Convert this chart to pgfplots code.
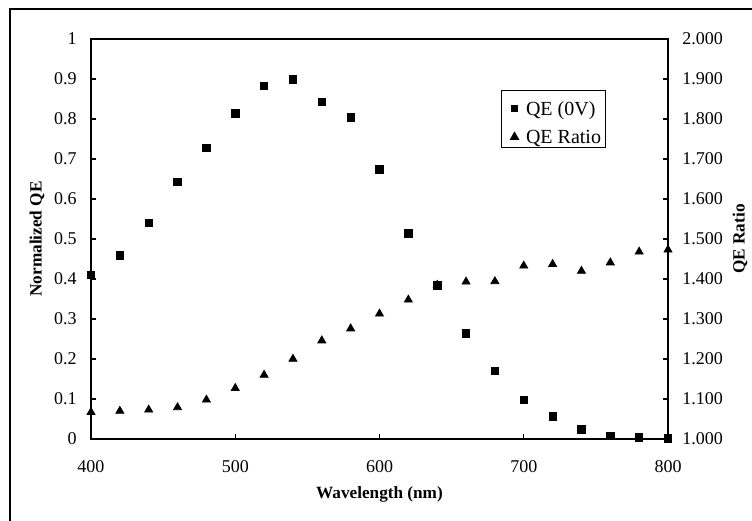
\documentclass[border=0pt]{standalone}
\usepackage{pgfplots}
\pgfplotsset{compat=1.18}
\usepackage{fontspec}
\setmainfont{Liberation Serif}
\newcommand\tf{\fontsize{9bp}{10bp}\selectfont}
\newcommand\lf{\fontsize{8.6bp}{10bp}\selectfont}
\newcommand\gf{\fontsize{10bp}{12bp}\selectfont}

\pgfplotstableread{
x qe ratio
400 0.410 1.067
420 0.459 1.070
440 0.540 1.073
460 0.642 1.079
480 0.727 1.098
500 0.814 1.127
520 0.882 1.160
540 0.899 1.200
560 0.842 1.246
580 0.804 1.276
600 0.674 1.313
620 0.514 1.348
640 0.384 1.385
660 0.264 1.393
680 0.170 1.394
700 0.098 1.433
720 0.057 1.437
740 0.024 1.420
760 0.008 1.441
780 0.004 1.468
800 0.002 1.473
}\data

\begin{document}
\begin{tikzpicture}
\useasboundingbox (0,0) rectangle (376bp,260.5bp);
\draw[line width=0.6bp] (5bp,-5bp) -- (5bp,256bp) -- (380bp,256bp);
\pgfplotsset{
  common/.style={
    at={(45.5bp,41bp)}, anchor=south west,
    scale only axis, width=288.5bp, height=200bp,
    xmin=400, xmax=800, clip=false,
    tick align=inside, major tick length=2.5bp,
    axis line style={line width=0.6bp}, tick style={line width=0.6bp,black},
    /pgf/number format/assume math mode=true,
    tick label style={font=\tf},
    label style={font=\lf\bfseries},
  }
}
\begin{axis}[common,
  ymin=0, ymax=1,
  xtick={400,500,600,700,800}, xtick pos=bottom,
  ytick={0,0.1,0.2,0.3,0.4,0.5,0.6,0.7,0.8,0.9,1},
  yticklabels={0,0.1,0.2,0.3,0.4,0.5,0.6,0.7,0.8,0.9,1},
  ytick pos=left,
  xticklabel style={anchor=center, inner sep=0pt, yshift=-14bp},
  yticklabel style={anchor=east, inner sep=0pt, xshift=-7bp},
  xlabel={Wavelength (nm)},
  xlabel style={at={(rel axis cs:0.5,0)}, anchor=center, yshift=-27.5bp},
  ylabel={Normalized QE},
  ylabel style={at={(rel axis cs:0,0.5)}, anchor=center, yshift=27bp},
]
\addplot[only marks, mark=square*, mark size=1.85bp, black] table[x=x,y=qe]{\data};
\end{axis}
\begin{axis}[common,
  ymin=1, ymax=2,
  axis x line=none, axis y line*=right,
  ytick={1,1.1,...,2.01},
  yticklabel style={anchor=west, inner sep=0pt, xshift=7bp,
    /pgf/number format/.cd, fixed, fixed zerofill, precision=3},
  ylabel={QE Ratio},
  ylabel style={at={(rel axis cs:1,0.5)}, anchor=center, yshift=-36bp},
  legend style={at={(rel axis cs:0.7106,0.8725)}, anchor=north west,
    draw=black, line width=0.5bp, font=\gf,
    inner xsep=1.25bp, inner ysep=0.25bp, row sep=0pt,
    nodes={text height=10.6bp, text depth=0bp, inner ysep=1.7bp, inner xsep=1bp},
    /tikz/every even column/.style={column sep=0pt},
  },
  legend cell align=left,
  legend image code/.code={\path (-5bp,-2bp) (4.5bp,-2bp);\draw[#1] plot coordinates {(0bp,-2bp)};},
]
\addlegendimage{only marks, mark=square*, mark size=1.5bp, black}
\addlegendentry{QE (0V)}
\addplot[only marks, mark=triangle*, mark size=2.3bp, black] table[x=x,y=ratio]{\data};
\addlegendentry{QE Ratio\hspace{1.75bp}}
\end{axis}
\end{tikzpicture}
\end{document}
